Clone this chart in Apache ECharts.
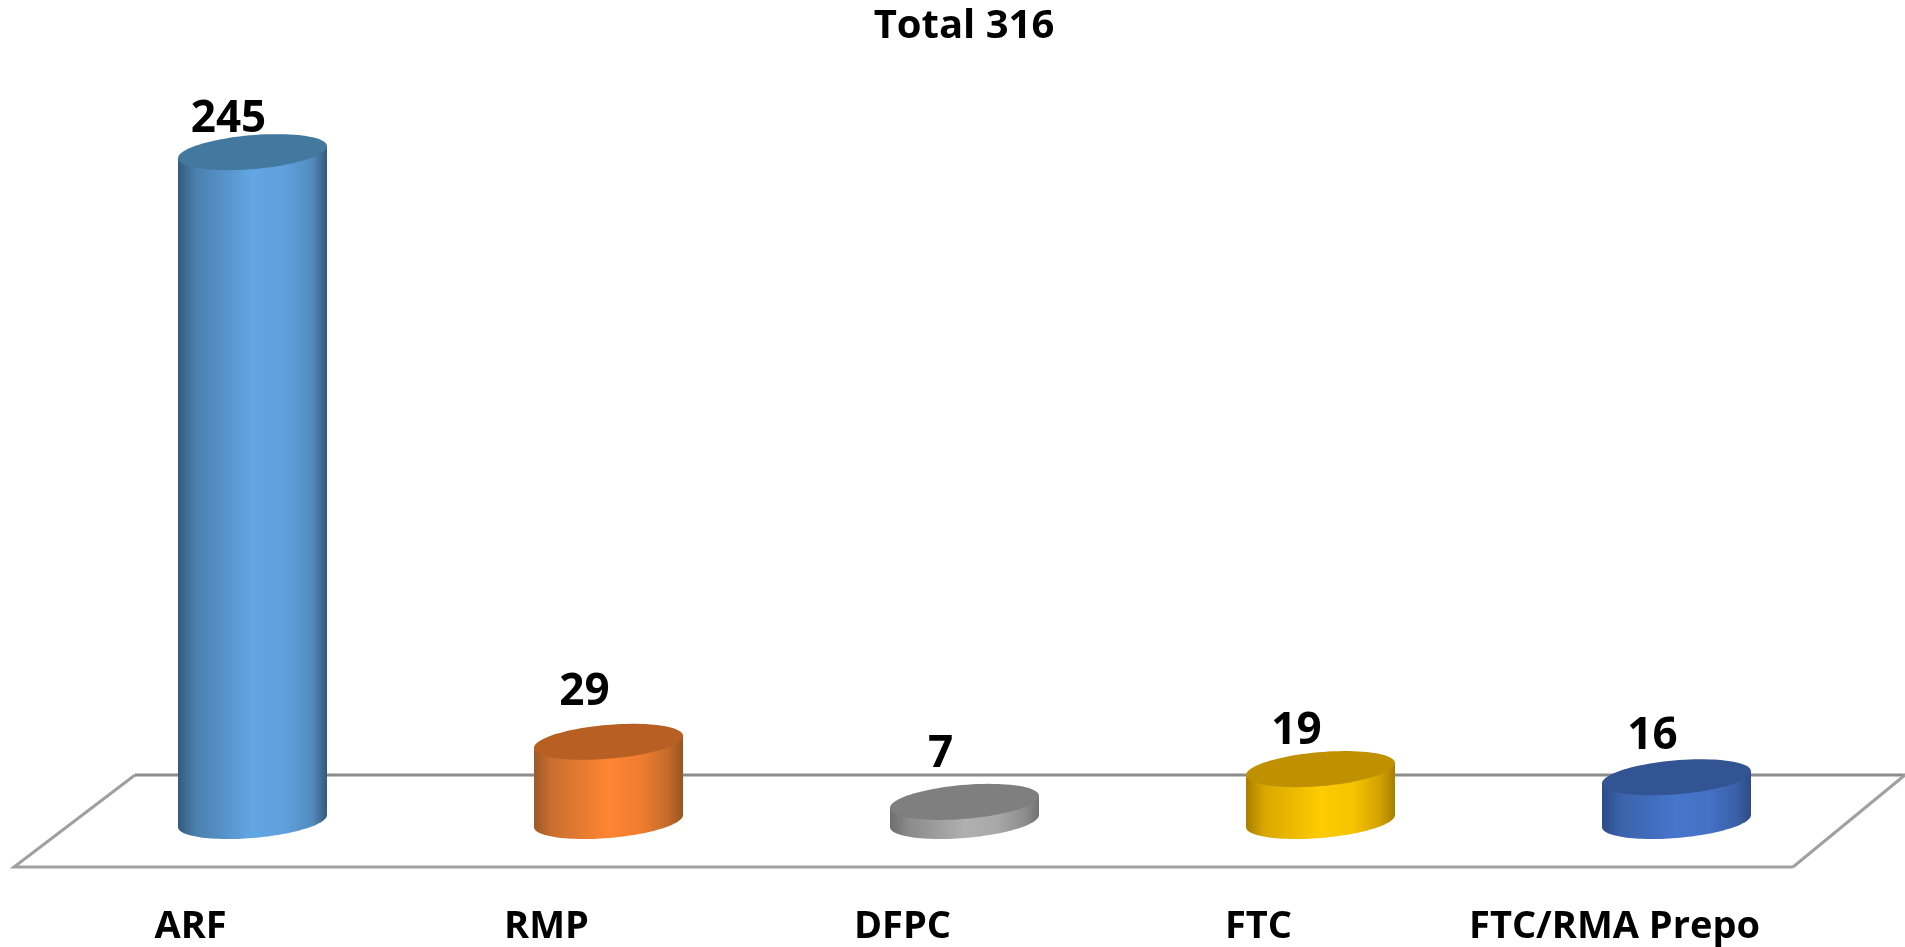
<!DOCTYPE html>
<html><head><meta charset="utf-8">
<style>html,body{margin:0;padding:0;background:#fff}#c{width:1905px;height:947px}</style>
<script src="https://cdn.jsdelivr.net/npm/echarts@6/dist/echarts.min.js"></script>
</head><body><div id="c"></div>
<script>
const categories = ['ARF', 'RMP', 'DFPC', 'FTC', 'FTC/RMA Prepo'];
const values = [245, 29, 7, 19, 16];
const titleText = 'Total 316';

// Styling kept apart from the data
const stopOffsets = [0, .12, .5, .72, .9, 1];
const palette = [
  {stops:['#345a7e','#4b80ae','#62a6e4','#5f9fdc','#528cbe','#36587a'], top:'#44799f'},
  {stops:['#9c5a28','#c96f2f','#ff8533','#f07c30','#c46b2b','#9a5420'], top:'#b85f24'},
  {stops:['#6e6e6e','#8a8a8a','#b0b0b0','#a8a8a8','#8e8e8e','#727272'], top:'#7f7f7f'},
  {stops:['#a67f00','#d9a600','#ffcc00','#f5c300','#d3a100','#a67f00'], top:'#bf9000'},
  {stops:['#2b4c86','#3b63aa','#4775cc','#4471c4','#3a61a8','#2b4c86'], top:'#325492'}
];
const labelLift = [33, 49, 47, 38, 41];
const LABEL_SHIFT = 24, HALF_W = 74.5, TILT = 6, MINOR = 17;
const FONT = '"Comic Sans MS","Open Sans","DejaVu Sans",sans-serif';

function rim(cx, cy, from, to, n) {
  const pts = [];
  for (let k = 0; k <= n; k++) {
    const t = from + (to - from) * k / n;
    pts.push([cx + HALF_W * Math.cos(t), cy - TILT * Math.cos(t) - MINOR * Math.sin(t)]);
  }
  return pts;
}

function renderCylinder(params, api) {
  const i = params.dataIndex;
  const base = api.coord([api.value(0), 0]);
  const top = api.coord([api.value(0), api.value(1)]);
  const cx = base[0];
  const front = rim(cx, base[1], Math.PI, 2 * Math.PI, 60);
  const body = [[cx - HALF_W, top[1] + TILT]].concat(front, [[cx + HALF_W, top[1] - TILT]]);
  const s = palette[i].stops;
  return {
    type: 'group',
    children: [
      { type: 'polygon', shape: { points: body }, style: {
          fill: new echarts.graphic.LinearGradient(
            cx - HALF_W, 0, cx + HALF_W, 0,
            stopOffsets.map((o, k) => ({ offset: o, color: s[k] })), true)
      }},
      { type: 'polygon', shape: { points: rim(cx, top[1], 0, 2 * Math.PI, 90) }, style: { fill: palette[i].top } },
      { type: 'text', style: {
          text: String(api.value(1)), x: cx - LABEL_SHIFT, y: top[1] - labelLift[i],
          align: 'center', verticalAlign: 'middle',
          font: 'bold 44px ' + FONT, fill: '#000'
      }}
    ]
  };
}

const chart = echarts.init(document.getElementById('c'), null, { renderer: 'canvas' });
chart.setOption({
  animation: false,
  backgroundColor: '#ffffff',
  title: { text: titleText, left: 959, top: 2, textAlign: 'center',
    textStyle: { fontFamily: '"Open Sans",sans-serif', fontWeight: 'bold', fontSize: 40, color: '#000' } },
  grid: { left: 74.5, width: 1780, top: 2, height: 819 },
  xAxis: { type: 'category', data: categories,
    axisLine: { show: false }, axisTick: { show: false },
    axisLabel: { margin: 87, fontFamily: FONT, fontWeight: 'bold', fontSize: 38, color: '#000',
      padding: [0, 124, 0, 0], interval: 0, hideOverlap: false } },
  yAxis: { type: 'value', min: 0, max: 300, show: false, splitLine: { show: false } },
  graphic: [
    { type: 'polyline', silent: true, z: 0, shape: { points: [[1793,867],[14,867],[135,775]] },
      style: { fill: null, stroke: '#a0a0a0', lineWidth: 3 } },
    { type: 'polyline', silent: true, z: 0, shape: { points: [[135,775],[1905,775]] },
      style: { fill: null, stroke: '#8c8c8c', lineWidth: 3 } },
    { type: 'polyline', silent: true, z: 0, shape: { points: [[1793,867],[1905,775]] },
      style: { fill: null, stroke: '#a0a0a0', lineWidth: 3 } }
  ],
  series: [{
    type: 'custom', renderItem: renderCylinder, clip: false, z: 5,
    encode: { x: 0, y: 1 },
    data: values.map((v, i) => [i, v])
  }]
});
</script></body></html>
